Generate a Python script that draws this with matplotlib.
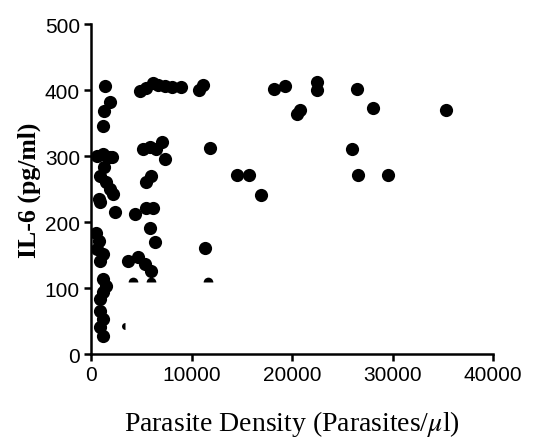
import matplotlib
matplotlib.use('Agg')
import matplotlib.pyplot as plt

# Parasite density (parasites/ul) vs IL-6 (pg/ml)
density = [
    1400, 1900, 1300, 1200,
    600, 1200, 1900, 2100, 1300, 900, 1500, 1900, 2200, 800,
    900, 2400,
    500, 800, 600, 1200, 900,
    1200, 1500, 1200, 900,
    900, 1200, 900, 1200,
    3700, 4700, 5400, 6000,
    4400, 5500, 6200, 5900, 6400,
    5500, 6000,
    5200, 5900, 6500, 7100, 7400,
    4900, 5500, 6200, 6700, 7400, 8100, 8900,
    10700, 11100, 11800, 11300,
    14500, 15700, 16900,
    18200, 19300, 20500, 20800,
    22500, 22500,
    26000, 26500, 28000, 26600, 29500, 35300,
]
il6 = [
    406, 382, 368, 345,
    300, 303, 298, 298, 283, 270, 261, 250, 242, 235,
    230, 215,
    183, 171, 159, 152, 141,
    114, 103, 94, 83,
    65, 53, 41, 27,
    141, 147, 136, 126,
    212, 221, 221, 191, 170,
    261, 270,
    311, 314, 311, 321, 295,
    398, 403, 411, 408, 406, 404, 404,
    400, 408, 312, 161,
    271, 271, 241,
    402, 406, 364, 370,
    412, 400,
    311, 402, 373, 271, 271, 370,
]

# partly hidden markers (only the top of the dot shows)
cut_density = [4200, 6000, 11600]
cut_il6 = [109, 109, 109]

sliver_density = [3400]
sliver_il6 = [42]

plt.rcParams['mathtext.fontset'] = 'stix'

fig = plt.figure(figsize=(5.42, 4.39), dpi=100)
ax = fig.add_axes([0.168, 0.191, 0.742, 0.752])

ax.plot(density, il6, 'o', color='black', markersize=9.5, markeredgewidth=0)
ax.plot(cut_density, cut_il6, 'o', color='black', markersize=7,
        markeredgewidth=0, fillstyle='top', markerfacecoloralt='none')
ax.plot(sliver_density, sliver_il6, 'o', color='black', markersize=5,
        markeredgewidth=0, fillstyle='left', markerfacecoloralt='none')

ax.set_xlim(0, 40000)
ax.set_ylim(0, 500)
ax.set_xticks([0, 10000, 20000, 30000, 40000])
ax.set_yticks([0, 100, 200, 300, 400, 500])

for side in ['top', 'right']:
    ax.spines[side].set_visible(False)
for side in ['left', 'bottom']:
    ax.spines[side].set_linewidth(1.8)

ax.tick_params(direction='out', length=5, width=1.8, colors='black',
               labelsize=15, pad=3)
for lbl in ax.get_xticklabels() + ax.get_yticklabels():
    lbl.set_family('Liberation Sans')

ax.set_xlabel(r'Parasite Density (Parasites/$\mu$l)', family='Liberation Serif',
              fontsize=20, labelpad=17)
ax.set_ylabel('IL-6 (pg/ml)', family='Liberation Serif', fontsize=18.5,
              fontweight='bold', labelpad=3)

fig.savefig('out.png', dpi=100)
